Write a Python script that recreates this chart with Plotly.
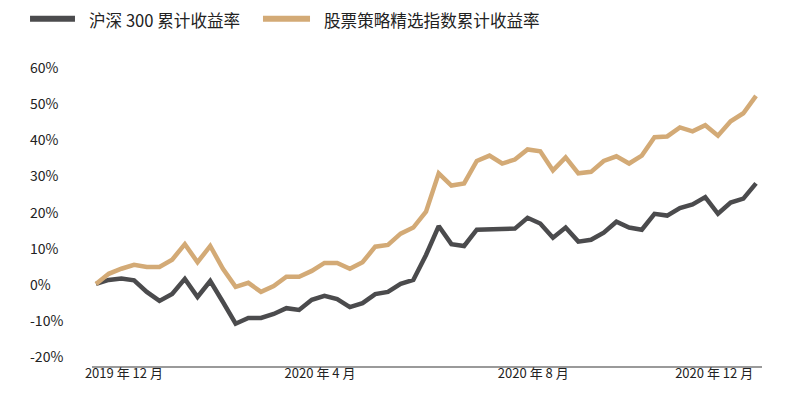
import plotly.graph_objects as go

# Weekly cumulative returns (%), Dec 2019 – Dec 2020
hs300 = [0, 1.1, 1.5, 1.0, -2.2, -4.7, -2.8, 1.4, -3.6, 0.8, -5.0, -11.0, -9.4, -9.4,
         -8.3, -6.7, -7.2, -4.4, -3.3, -4.2, -6.4, -5.3, -2.8, -2.2, 0.0, 1.1, 8.0,
         16.0, 11.0, 10.5, 15.0, 15.0, 15.0, 15.3, 18.3, 16.7, 12.8, 15.6, 11.7, 12.2,
         14.2, 17.2, 15.6, 15.0, 19.4, 18.9, 21.0, 22.0, 24.0, 19.4, 22.5, 23.6, 27.8]
strategy = [0, 2.8, 4.2, 5.3, 4.7, 4.7, 6.7, 11.0, 6.0, 10.5, 4.2, -0.8, 0.3, -2.2,
            -0.6, 2.0, 2.0, 3.6, 5.8, 5.8, 4.2, 6.0, 10.3, 10.8, 13.9, 15.6, 20.0,
            30.6, 27.2, 27.8, 34.0, 35.5, 33.3, 34.4, 37.2, 36.7, 31.4, 35.0, 30.6, 31.0,
            34.0, 35.3, 33.3, 35.5, 40.6, 40.8, 43.3, 42.2, 43.9, 41.0, 45.0, 47.2, 52.0]
week_index = list(range(len(hs300)))

x_tick_pos = [2.2, 17.65, 34.45, 48.7]
x_tick_text = ["2019 年 12 月", "2020 年 4 月", "2020 年 8 月", "2020 年 12 月"]
y_ticks = [60, 50, 40, 30, 20, 10, 0, -10, -20]
series_names = ["沪深 300 累计收益率", "股票策略精选指数累计收益率"]

FONT = "Noto Sans CJK SC"
DARK = "#4b4b4d"
TAN = "#d3aa76"
colors = [DARK, TAN]

fig = go.Figure()
fig.add_trace(go.Scatter(x=week_index, y=hs300, mode="lines", name=series_names[0],
                         line=dict(color=DARK, width=4.5), showlegend=False))
fig.add_trace(go.Scatter(x=week_index, y=strategy, mode="lines", name=series_names[1],
                         line=dict(color=TAN, width=4.5), showlegend=False))

annotations = [dict(x=-0.0955, xref="paper", y=v, yref="y", text=f"{v}%",
                    showarrow=False, xanchor="left", yanchor="middle",
                    font=dict(family=FONT, size=14, color="#222222"))
               for v in y_ticks]

# manual legend (line sample + label), in paper coordinates
legend_line_y = 1.161
legend_text_y = 1.158
legend_items = [(-0.0925, -0.0254, -0.007), (0.2552, 0.3254, 0.3433)]
shapes = []
for (x0, x1, xt), name, col in zip(legend_items, series_names, colors):
    shapes.append(dict(type="line", xref="paper", yref="paper", x0=x0, x1=x1,
                       y0=legend_line_y, y1=legend_line_y, line=dict(color=col, width=6)))
    annotations.append(dict(x=xt, xref="paper", y=legend_text_y, yref="paper", text=name,
                            showarrow=False, xanchor="left", yanchor="middle",
                            font=dict(family=FONT, size=16.6, color="#222222")))

fig.update_layout(
    width=800, height=397,
    margin=dict(l=84, r=46, t=59, b=39, autoexpand=False),
    paper_bgcolor="white", plot_bgcolor="white",
    font=dict(family=FONT, color="#222222"),
    showlegend=False,
    annotations=annotations,
    shapes=shapes,
    xaxis=dict(range=[-0.315, 52.47], tickmode="array", tickvals=x_tick_pos,
               ticktext=x_tick_text, showgrid=False, zeroline=False,
               showline=True, linecolor="#9a9a9a", linewidth=2, ticks="",
               ticklabelstandoff=-6,
               tickfont=dict(family=FONT, size=13, color="#222222")),
    yaxis=dict(range=[-22.7, 60], showgrid=False, zeroline=False, showticklabels=False,
               showline=False, ticks=""),
)

fig.write_html("out.html")
